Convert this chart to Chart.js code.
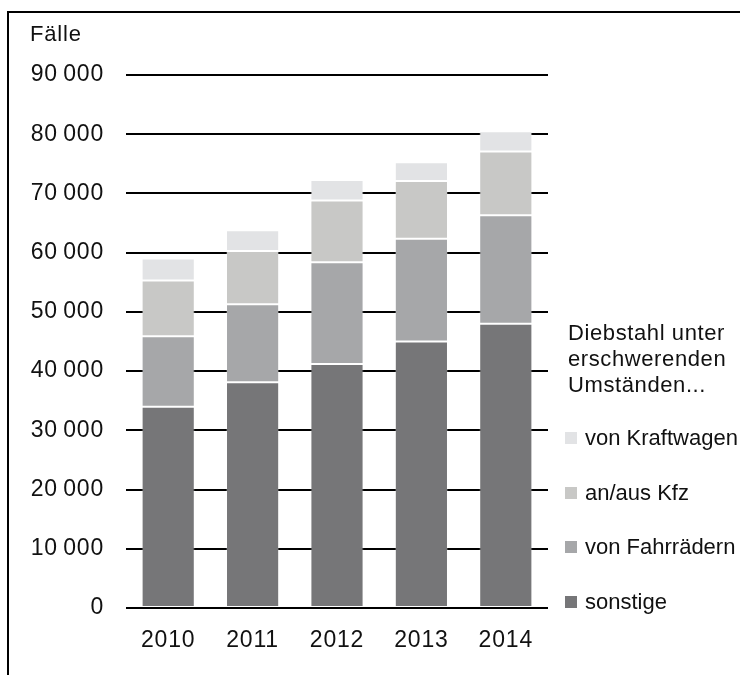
<!DOCTYPE html>
<html lang="de">
<head>
<meta charset="utf-8">
<title>Diebstahl unter erschwerenden Umständen</title>
<script src="https://cdn.jsdelivr.net/npm/chart.js@4.4.1/dist/chart.umd.min.js"></script>
<style>
  html, body { margin: 0; padding: 0; background: #fff; overflow: hidden; }
  #wrap { position: relative; width: 740px; height: 675px; }
  #frame {
    position: absolute; left: 7px; top: 11px; width: 900px; height: 900px;
    border: 2px solid #000;
  }
  #chart { position: absolute; left: 0; top: 0; }
  #legend {
    position: absolute; left: 0; top: 0; width: 740px; height: 675px;
    font-family: "Liberation Sans", Arial, sans-serif; font-size: 22px; color: #111;
    pointer-events: none;
  }
  .lg-title { position: absolute; left: 568px; top: 320px; line-height: 26px; letter-spacing: 0.6px; }
  .lg-item { position: absolute; left: 585px; line-height: 25px; white-space: nowrap; }
  .lg-box { position: absolute; left: -20px; top: 7px; width: 12px; height: 12px; }
</style>
</head>
<body>
<div id="wrap">
  <div id="frame"></div>
  <canvas id="chart" width="740" height="675"></canvas>
  <div id="legend"></div>
</div>
<script>
// Daten
const jahre = ['2010', '2011', '2012', '2013', '2014'];
const sonstige = [34000, 38100, 41200, 45000, 48000];
const fahrraeder = [11900, 13200, 17200, 17350, 18300];
const kfz = [9400, 9000, 10400, 9750, 10800];
const kraftwagen = [3700, 3500, 3450, 3150, 3400];

const serienNamen = ['sonstige', 'von Fahrrädern', 'an/aus Kfz', 'von Kraftwagen'];
const serienFarben = ['#767678', '#a6a7a9', '#c8c8c6', '#e2e3e5'];
const serienWerte = [sonstige, fahrraeder, kfz, kraftwagen];

const yTicks = [0, 10000, 20000, 30000, 40000, 50000, 60000, 70000, 80000, 90000];

const schrift = { family: '"Liberation Sans", Arial, sans-serif', size: 23 };

function zahl(v) {
  // Tausender mit schmalem Leerzeichen
  return String(v).replace(/\B(?=(\d{3})+(?!\d))/g, '\u2009');
}

// etwas Laufweite wie im Original
const laufweite = {
  id: 'laufweite',
  beforeDraw(chart) { chart.ctx.letterSpacing = '0.8px'; }
};

const ctx = document.getElementById('chart');

new Chart(ctx, {
  type: 'bar',
  data: {
    labels: jahre,
    datasets: serienNamen.map((name, i) => ({
      label: name,
      data: serienWerte[i],
      backgroundColor: serienFarben[i],
      borderColor: 'rgba(255,255,255,0.2)',
      borderWidth: 1,
      borderSkipped: false,
      categoryPercentage: 1,
      barPercentage: 0.63
    }))
  },
  plugins: [laufweite],
  options: {
    responsive: false,
    animation: false,
    layout: { padding: { top: 8, left: 30, right: 192, bottom: 1.4 } },
    plugins: {
      legend: { display: false },
      tooltip: { enabled: false },
      title: {
        display: true,
        text: 'Fälle',
        align: 'start',
        color: '#111',
        font: { family: schrift.family, size: 22, weight: 'normal' },
        padding: { top: 13.8, bottom: 26.8 }
      }
    },
    scales: {
      x: {
        stacked: true,
        grid: { display: false, drawTicks: false },
        border: { display: false },
        ticks: { color: '#111', font: schrift, padding: 19 }
      },
      y: {
        stacked: true,
        min: 0,
        max: 90000,
        afterFit: s => { s.width = 96; },
        afterBuildTicks: s => { s.ticks = yTicks.map(v => ({ value: v })); },
        grid: { color: '#000', lineWidth: 2, drawTicks: false },
        border: { display: false },
        ticks: {
          color: '#111',
          font: schrift,
          padding: 22,
          callback: v => zahl(v)
        }
      }
    }
  }
});

// Legende (umgekehrte Reihenfolge wie im Original)
const legende = document.getElementById('legend');
const titel = document.createElement('div');
titel.className = 'lg-title';
titel.innerHTML = 'Diebstahl unter<br>erschwerenden<br>Umständen...';
legende.appendChild(titel);

const itemTops = [425, 479.5, 534, 588.5];
for (let k = 0; k < serienNamen.length; k++) {
  const i = serienNamen.length - 1 - k;
  const item = document.createElement('div');
  item.className = 'lg-item';
  item.style.top = itemTops[k] + 'px';
  const box = document.createElement('span');
  box.className = 'lg-box';
  box.style.background = serienFarben[i];
  item.appendChild(box);
  item.appendChild(document.createTextNode(serienNamen[i]));
  legende.appendChild(item);
}
</script>
</body>
</html>
